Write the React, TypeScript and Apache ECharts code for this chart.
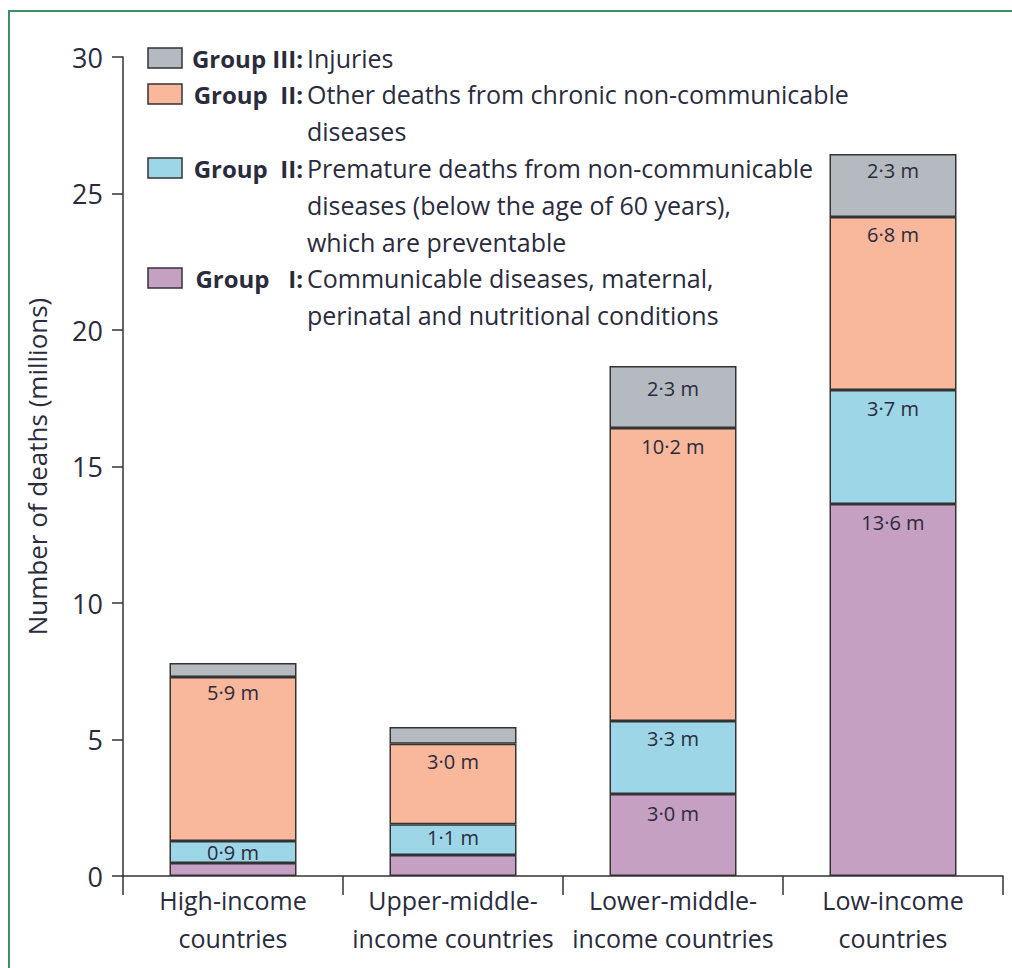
import React, { useEffect, useRef } from "react";
import * as echarts from "echarts";

const categories = [
  "High-income\ncountries",
  "Upper-middle-\nincome countries",
  "Lower-middle-\nincome countries",
  "Low-income\ncountries",
];
const groupI = [0.48, 0.77, 3.0, 13.63];
const groupIIPremature = [0.8, 1.13, 2.68, 4.17];
const groupIIOther = [6.01, 2.94, 10.73, 6.34];
const groupIII = [0.51, 0.62, 2.27, 2.31];

const groupILabels = ["", "", "3·0 m", "13·6 m"];
const prematureLabels = ["0·9 m", "1·1 m", "3·3 m", "3·7 m"];
const otherLabels = ["5·9 m", "3·0 m", "10·2 m", "6·8 m"];
const injuryLabels = ["", "", "2·3 m", "2·3 m"];

const yMin = 0;
const yMax = 30;
const yStep = 5;

const legendGroups = ["Group III:", "Group  II:", "Group  II:", "Group   I:"];
const legendLines = [
  ["Injuries"],
  ["Other deaths from chronic non-communicable", "diseases"],
  ["Premature deaths from non-communicable", "diseases (below the age of 60 years),", "which are preventable"],
  ["Communicable diseases, maternal,", "perinatal and nutritional conditions"],
];

const COLORS = {
  injuries: "#b4babf",
  other: "#f9b79b",
  premature: "#9dd6e6",
  groupI: "#c6a0c2",
};
const legendColors = [COLORS.injuries, COLORS.other, COLORS.premature, COLORS.groupI];
const legendRowY = [58, 94, 168, 278];

const FONT = "'Open Sans', sans-serif";
const TEXT = "#2a2b3d";

export default function App() {
  const ref = useRef<HTMLDivElement>(null);
  useEffect(() => {
    document.body.style.margin = "0";
    const chart = echarts.init(ref.current!, undefined, { renderer: "svg" });

    const mk = (name: string, values: number[], labels: string[], color: string, distances?: number[]) => ({
      name,
      type: "bar",
      stack: "total",
      barWidth: 127,
      itemStyle: { color, borderColor: "#333", borderWidth: 1.5 },
      data: values.map((v, i) => ({
        value: v,
        label: {
          show: labels[i] !== "",
          formatter: labels[i],
          distance: distances ? distances[i] : 9,
        },
      })),
      label: {
        position: "insideTop",
        fontSize: 20,
        fontFamily: FONT,
        color: TEXT,
      },
    });

    const graphics: any[] = [
      {
        type: "polyline",
        shape: { points: [[9, 1000], [9, 11], [1100, 11]] },
        style: { stroke: "#3e8e63", lineWidth: 2, fill: "none" },
        silent: true,
      },
    ];
    legendGroups.forEach((g, i) => {
      const cy = legendRowY[i];
      graphics.push({
        type: "rect",
        shape: { x: 148, y: cy - 10, width: 34, height: 20 },
        style: { fill: legendColors[i], stroke: "#333", lineWidth: 1.5 },
      });
      graphics.push({
        type: "text",
        x: 303,
        y: cy,
        style: {
          text: g,
          align: "right",
          verticalAlign: "middle",
          font: `bold 24px ${FONT}`,
          fill: TEXT,
        },
      });
      legendLines[i].forEach((line, j) => {
        graphics.push({
          type: "text",
          x: 307,
          y: cy + j * 37,
          style: {
            text: line,
            align: "left",
            verticalAlign: "middle",
            font: `25px ${FONT}`,
            fill: TEXT,
          },
        });
      });
    });

    chart.setOption({
      animation: false,
      grid: { left: 123, top: 57, width: 880, height: 819, containLabel: false },
      xAxis: {
        type: "category",
        data: categories,
        axisLine: { lineStyle: { color: "#333", width: 1.5 } },
        axisTick: { show: true, length: 19, alignWithLabel: false, lineStyle: { color: "#333", width: 1.5 } },
        axisLabel: { fontSize: 25, lineHeight: 38, margin: 5, color: TEXT, fontFamily: FONT, interval: 0 },
      },
      yAxis: {
        type: "value",
        min: yMin,
        max: yMax,
        interval: yStep,
        name: "Number of deaths (millions)",
        nameLocation: "middle",
        nameGap: 73,
        nameTextStyle: { fontSize: 26, color: TEXT, fontFamily: FONT },
        axisLine: { show: true, lineStyle: { color: "#333", width: 1.5 } },
        axisTick: { show: true, length: 11, lineStyle: { color: "#333", width: 1.5 } },
        axisLabel: { fontSize: 27, margin: 20, color: TEXT, fontFamily: FONT },
        splitLine: { show: false },
      },
      series: [
        mk("Group I", groupI, groupILabels, COLORS.groupI),
        mk("Group II premature", groupIIPremature, prematureLabels, COLORS.premature, [1, 3, 8, 8]),
        mk("Group II other", groupIIOther, otherLabels, COLORS.other, [6, 8, 8, 8]),
        mk("Group III", groupIII, injuryLabels, COLORS.injuries, [12, 9, 12, 7]),
      ],
      graphic: graphics,
    });
    return () => chart.dispose();
  }, []);
  return <div ref={ref} style={{ width: 1012, height: 968 }} />;
}
